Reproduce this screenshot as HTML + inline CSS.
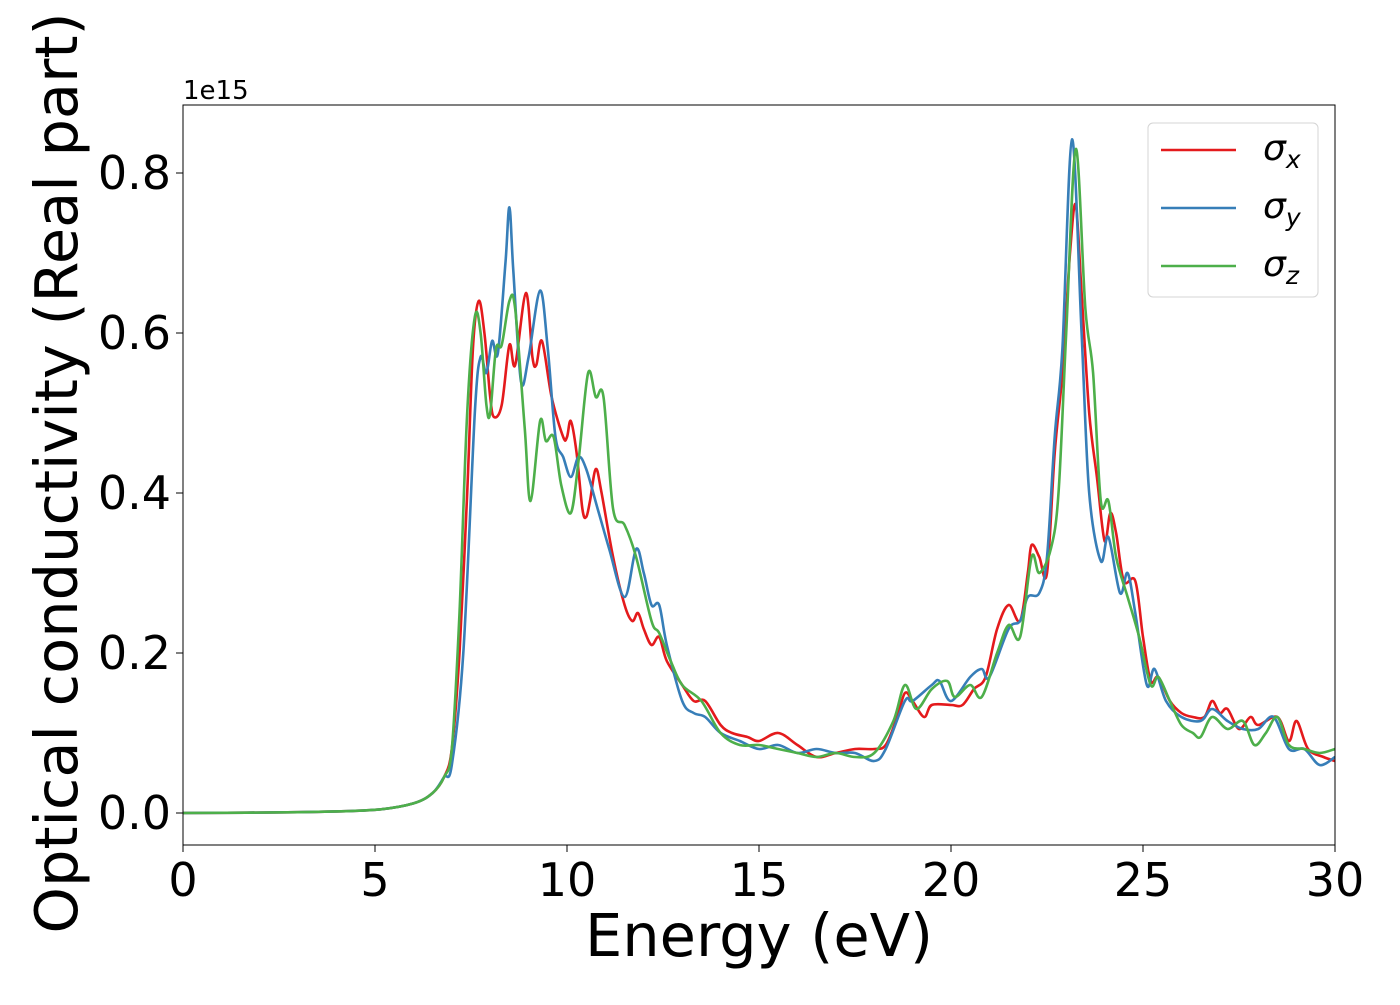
<!DOCTYPE html>
<html><head><meta charset="utf-8"><style>
body{margin:0;background:#fff;font-family:"Liberation Sans","DejaVu Sans",sans-serif;}
svg text{font-family:"DejaVu Sans","Liberation Sans",sans-serif;}
</style></head><body>
<svg id="chart" width="1400" height="1000" viewBox="0 0 1400 1000" xmlns="http://www.w3.org/2000/svg">
<rect width="1400" height="1000" fill="#fff"/>
<g id="plot"></g>
</svg>
<script>
const xTicks=[0,5,10,15,20,25,30];
const yTicks=[0,0.2,0.4,0.6,0.8];
const yTickLabels=["0.0","0.2","0.4","0.6","0.8"];
const pre=[[0,0],[3,0.001],[5,0.004],[6,0.012],[6.5,0.025],[6.8,0.045]];
const sigmaX=pre.concat([[7.0,0.08],[7.2,0.2],[7.4,0.4],[7.55,0.58],[7.7,0.64],[7.85,0.6],[8.0,0.52],[8.1,0.495],[8.3,0.51],[8.5,0.585],[8.65,0.56],[8.93,0.65],[9.1,0.57],[9.2,0.56],[9.35,0.59],[9.6,0.52],[9.9,0.47],[10.0,0.47],[10.1,0.49],[10.25,0.45],[10.4,0.38],[10.5,0.37],[10.6,0.39],[10.75,0.43],[10.9,0.4],[11.2,0.32],[11.5,0.26],[11.7,0.24],[11.85,0.25],[12.0,0.23],[12.2,0.21],[12.4,0.22],[12.6,0.19],[13,0.16],[13.3,0.14],[13.6,0.14],[14,0.11],[14.3,0.1],[14.7,0.095],[15.0,0.09],[15.5,0.1],[16,0.085],[16.5,0.07],[17,0.075],[17.5,0.08],[18,0.08],[18.3,0.085],[18.6,0.12],[18.8,0.15],[19,0.14],[19.3,0.12],[19.5,0.135],[20,0.135],[20.3,0.135],[20.6,0.155],[20.9,0.17],[21.2,0.23],[21.5,0.26],[21.8,0.24],[22.0,0.3],[22.1,0.335],[22.3,0.32],[22.5,0.3],[22.7,0.45],[22.9,0.55],[23.1,0.7],[23.25,0.76],[23.4,0.65],[23.6,0.5],[23.8,0.42],[24.0,0.34],[24.15,0.375],[24.3,0.35],[24.5,0.29],[24.8,0.29],[25.0,0.22],[25.2,0.165],[25.4,0.17],[25.7,0.14],[26,0.125],[26.3,0.12],[26.6,0.12],[26.8,0.14],[27.0,0.125],[27.2,0.13],[27.5,0.105],[27.8,0.12],[28.0,0.11],[28.5,0.12],[28.8,0.09],[29.0,0.115],[29.3,0.08],[29.7,0.07],[30,0.065]]);
const sigmaY=pre.concat([[7.0,0.06],[7.3,0.2],[7.6,0.5],[7.75,0.57],[7.9,0.55],[8.05,0.59],[8.2,0.575],[8.4,0.69],[8.5,0.757],[8.6,0.68],[8.8,0.54],[9.0,0.57],[9.3,0.653],[9.5,0.58],[9.7,0.47],[9.9,0.445],[10.1,0.42],[10.3,0.445],[10.5,0.43],[10.8,0.38],[11.1,0.33],[11.5,0.27],[11.8,0.33],[12.0,0.3],[12.2,0.26],[12.4,0.26],[12.6,0.21],[13,0.14],[13.3,0.125],[13.6,0.12],[14,0.1],[14.5,0.09],[15,0.08],[15.5,0.085],[16,0.075],[16.5,0.08],[17,0.075],[17.5,0.075],[18,0.065],[18.3,0.08],[18.8,0.14],[19,0.14],[19.5,0.16],[19.7,0.165],[20,0.14],[20.5,0.17],[20.8,0.18],[21,0.17],[21.5,0.23],[21.8,0.24],[22.0,0.27],[22.3,0.275],[22.5,0.32],[22.7,0.47],[22.9,0.58],[23.15,0.842],[23.4,0.6],[23.6,0.4],[23.9,0.315],[24.1,0.345],[24.4,0.275],[24.6,0.3],[24.8,0.25],[25.1,0.16],[25.3,0.18],[25.6,0.14],[26,0.12],[26.5,0.115],[26.8,0.13],[27.2,0.115],[27.6,0.105],[28,0.105],[28.4,0.12],[28.8,0.08],[29.2,0.08],[29.6,0.06],[30,0.07]]);
const sigmaZ=pre.concat([[7.0,0.08],[7.2,0.25],[7.4,0.5],[7.6,0.62],[7.75,0.6],[7.9,0.51],[8.0,0.5],[8.15,0.58],[8.3,0.585],[8.5,0.64],[8.65,0.63],[8.9,0.48],[9.05,0.39],[9.3,0.49],[9.45,0.465],[9.65,0.47],[9.85,0.41],[10.1,0.375],[10.3,0.44],[10.55,0.55],[10.75,0.52],[10.95,0.52],[11.2,0.38],[11.5,0.36],[11.8,0.32],[12.2,0.24],[12.4,0.225],[12.7,0.19],[13,0.16],[13.5,0.14],[14,0.1],[14.5,0.085],[15,0.085],[15.5,0.08],[16,0.075],[16.5,0.07],[17,0.075],[17.5,0.07],[18,0.075],[18.5,0.115],[18.8,0.16],[19.1,0.13],[19.5,0.155],[19.9,0.165],[20.1,0.145],[20.5,0.16],[20.8,0.145],[21.2,0.2],[21.5,0.235],[21.8,0.22],[22.1,0.32],[22.3,0.3],[22.6,0.33],[22.8,0.4],[23.0,0.6],[23.25,0.83],[23.5,0.63],[23.7,0.55],[23.9,0.39],[24.1,0.39],[24.3,0.32],[24.6,0.27],[24.9,0.22],[25.2,0.16],[25.4,0.17],[25.7,0.14],[26,0.11],[26.3,0.1],[26.5,0.095],[26.8,0.12],[27.2,0.105],[27.6,0.115],[27.9,0.085],[28.2,0.1],[28.5,0.12],[28.8,0.085],[29.2,0.08],[29.6,0.075],[30,0.08]]);
const seriesNames=["sigma-x","sigma-y","sigma-z"];
const seriesColors=["#e41a1c","#377eb8","#4daf4a"];

const L=183,R=1335,T=105,B=845;
const xMin=0,xMax=30,yMin=-0.04,yMax=0.885;
const X=v=>L+(v-xMin)/(xMax-xMin)*(R-L);
const Y=v=>B-(v-yMin)/(yMax-yMin)*(B-T);
const NS="http://www.w3.org/2000/svg";
const g=document.getElementById('plot');
function mk(tag,attrs,parent){const e=document.createElementNS(NS,tag);for(const k in attrs)e.setAttribute(k,attrs[k]);(parent||g).appendChild(e);return e;}
function pathD(pts){
  const p=pts.map(q=>[X(q[0]),Y(q[1])]);
  let d=`M${p[0][0].toFixed(1)},${p[0][1].toFixed(1)}`;
  for(let i=0;i<p.length-1;i++){
    const p0=p[Math.max(0,i-1)],p1=p[i],p2=p[i+1],p3=p[Math.min(p.length-1,i+2)];
    const c1=[p1[0]+(p2[0]-p0[0])/6,p1[1]+(p2[1]-p0[1])/6];
    const c2=[p2[0]-(p3[0]-p1[0])/6,p2[1]-(p3[1]-p1[1])/6];
    d+=`C${c1[0].toFixed(1)},${c1[1].toFixed(1)} ${c2[0].toFixed(1)},${c2[1].toFixed(1)} ${p2[0].toFixed(1)},${p2[1].toFixed(1)}`;
  }
  return d;
}
const clip=mk('clipPath',{id:'clipArea'});
mk('rect',{x:L,y:T,width:R-L,height:B-T},clip);
const data=[sigmaX,sigmaY,sigmaZ];
data.forEach((s,i)=>{
  const p=mk('path',{d:pathD(s),fill:'none',stroke:seriesColors[i],'stroke-width':2.6,'clip-path':'url(#clipArea)'});
  
  
});
const frame=mk('rect',{x:L,y:T,width:R-L,height:B-T,fill:'none',stroke:'#000','stroke-width':1});


xTicks.forEach(t=>{
  const ln=mk('line',{x1:X(t),x2:X(t),y1:B,y2:B+7,stroke:'#000','stroke-width':1});
  
  
  const tx=mk('text',{x:X(t),y:B+51,'font-size':46,'text-anchor':'middle'});
  tx.textContent=t;
  
  
});
yTicks.forEach((t,i)=>{
  const ln=mk('line',{x1:L-7,x2:L,y1:Y(t),y2:Y(t),stroke:'#000','stroke-width':1});
  
  
  const tx=mk('text',{x:L-12,y:Y(t)+16,'font-size':46,'text-anchor':'end'});
  tx.textContent=yTickLabels[i];
  
  
});
const off=mk('text',{x:L,y:99,'font-size':26});
off.textContent='1e15';


const xt=mk('text',{x:(L+R)/2,y:956,'font-size':59,'text-anchor':'middle'});
xt.textContent='Energy (eV)';


const yt=mk('text',{x:0,y:0,'font-size':59,'text-anchor':'middle',transform:`translate(77,${(T+B)/2-2}) rotate(-90)`});
yt.textContent='Optical conductivity (Real part)';


const leg=mk('g',{});


mk('rect',{x:1148,y:123,width:170,height:174,rx:5,fill:'#fff',stroke:'#d0d0d0','stroke-width':1,opacity:0.9},leg);
const subs=['x','y','z'];
seriesColors.forEach((c,i)=>{
  const yy=150+i*58;
  const ln=mk('line',{x1:1161,x2:1236,y1:yy,y2:yy,stroke:c,'stroke-width':2.6},leg);
  
  
  const tx=mk('text',{x:1263,y:yy+10,'font-size':36,'font-style':'italic'},leg);
  tx.textContent='σ';
  const ts=mk('tspan',{'font-size':25,dy:8},tx);
  ts.textContent=subs[i];
  
  
});
</script>
</body></html>
